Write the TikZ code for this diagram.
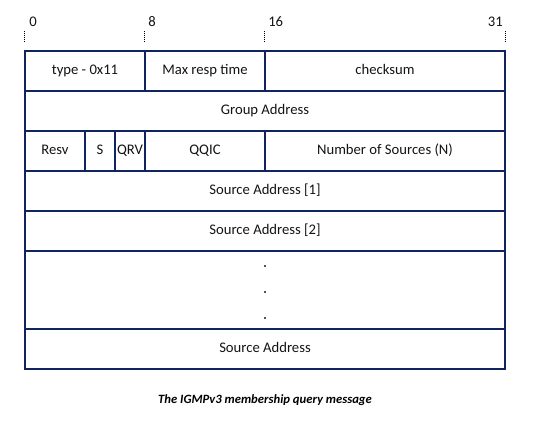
\documentclass[tikz,border=0pt]{standalone}
\usepackage{fontspec}
\setmainfont{Carlito}
\usepackage{tikz}
\usetikzlibrary{positioning}
\definecolor{hdrnavy}{RGB}{16,36,96}
\definecolor{txtgray}{RGB}{20,20,20}

\begin{document}
\begin{tikzpicture}[
        x=0.75pt, y=-0.75pt,
        field/.style={rectangle, draw=hdrnavy, line width=0.8pt,
                      minimum height=30pt, inner sep=0pt, text=txtgray,
                      text height=7.6pt, text depth=2.2pt,
                      font=\fontsize{11}{13}\selectfont},
        bitlabel/.style={inner sep=0pt, text=txtgray,
                         font=\fontsize{11}{13}\selectfont},
        tick/.style={black, dash pattern=on 0.75pt off 0.75pt, line width=0.8pt},
        dotmark/.style={circle, fill=txtgray, inner sep=0pt, minimum size=1.6pt}
      ]
        \useasboundingbox (0,0) rectangle (534,430);
        % Row 1
        \node[field, minimum width=90pt]  (type)  at (85,71)  {type - 0x11};
        \node[field, minimum width=90pt]  (mrt)   at (205,71) {Max resp time};
        \node[field, minimum width=180pt] (csum)  at (385,71) {checksum};
        % Row 2
        \node[field, minimum width=360pt] (grp)   at (265,111) {Group Address};
        % Row 3
        \node[field, minimum width=45pt]   (resv) at (55,151)  {Resv};
        \node[field, minimum width=22.5pt] (sflg) at (100,151) {S};
        \node[field, minimum width=22.5pt] (qrv)  at (130,151) {QRV};
        \node[field, minimum width=90pt]   (qqic) at (205,151) {QQIC};
        \node[field, minimum width=180pt]  (nsrc) at (385,151) {Number of Sources (N)};
        % Sources
        \node[field, minimum width=360pt] (src1) at (265,191) {Source Address [1]};
        \node[field, minimum width=360pt] (src2) at (265,231) {Source Address [2]};
        \node[field, minimum width=360pt, minimum height=58.5pt] (more) at (265,290) {};
        \node[field, minimum width=360pt] (srcn) at (265,349) {Source Address};
        % Dots
        \node[dotmark] (d1) at (265,266) {};
        \node[dotmark] (d2) at (265,292) {};
        \node[dotmark] (d3) at (265,318) {};
        % Bit positions
        \node[bitlabel, anchor=west] (b0)  at (29,22)  {0};
        \node[bitlabel, anchor=west] (b8)  at (148,22) {8};
        \node[bitlabel, anchor=west] (b16) at (268,22) {16};
        \node[bitlabel, anchor=east] (b31) at (503,22) {31};
        \draw[tick] (type.north west) ++(0,-8) -- ++(0,-11);
        \draw[tick] (mrt.north west)  ++(0,-8) -- ++(0,-11);
        \draw[tick] (csum.north west) ++(0,-8) -- ++(0,-11);
        \draw[tick] (csum.north east) ++(0,-8) -- ++(0,-11);
        % Caption
        \node[font=\fontsize{9.5}{11}\selectfont\bfseries\itshape, text=black] (cap) at (265,400)
          {The IGMPv3 membership query message};
      \end{tikzpicture}
\end{document}
